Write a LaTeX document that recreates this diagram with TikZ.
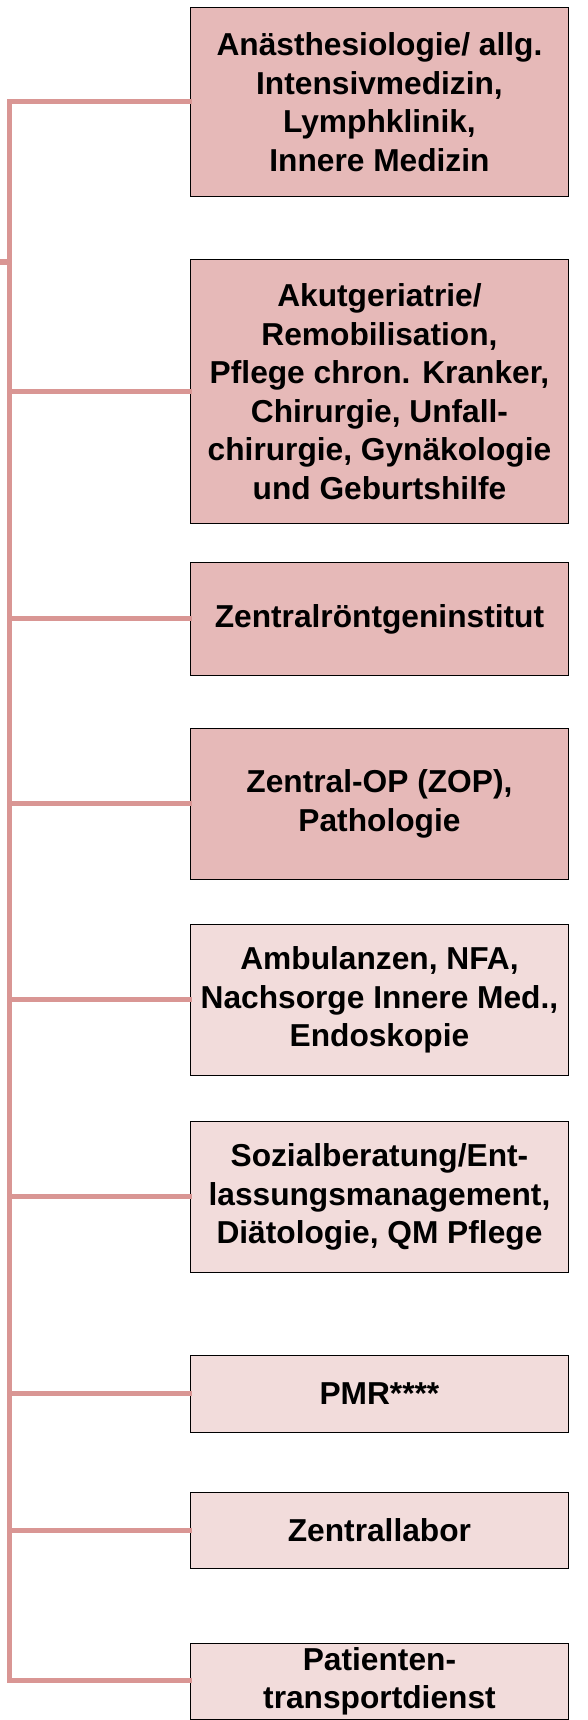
\documentclass[tikz,border=0pt]{standalone}
\usepackage{fontspec}
\setmainfont{Liberation Sans}
\definecolor{connc}{HTML}{D99694}
\definecolor{darkfill}{HTML}{E6B9B8}
\definecolor{lightfill}{HTML}{F2DCDB}
\tikzset{
  unit/.style={draw=black, line width=0.9pt, rectangle, anchor=north west,
    minimum width=378pt, inner sep=0pt, align=center,
    font=\fontsize{31.7pt}{38.5pt}\selectfont\bfseries},
  darkbox/.style={unit, fill=darkfill},
  lightbox/.style={unit, fill=lightfill},
  conn/.style={draw=connc, line width=5pt, line join=miter}
}
\begin{document}
\begin{tikzpicture}[x=1pt,y=1pt]
\useasboundingbox (0,0) rectangle (588,-1720);
\node[darkbox, minimum height=189pt] (b1) at (190,-7)
  {Anästhesiologie/ allg.\\Intensivmedizin,\\Lymphklinik,\\Innere Medizin};
\node[darkbox, minimum height=264pt] (b2) at (190,-259)
  {Akutgeriatrie/\\Remobilisation,\\Pflege chron. Kranker,\\Chirurgie, Unfall-\\chirurgie, Gynäkologie\\und Geburtshilfe};
\node[darkbox, minimum height=113pt] (b3) at (190,-562)
  {Zentralröntgeninstitut};
\node[darkbox, minimum height=151pt] (b4) at (190,-728)
  {Zentral-OP (ZOP),\\Pathologie};
\node[lightbox, minimum height=151pt] (b5) at (190,-924)
  {Ambulanzen, NFA,\\Nachsorge Innere Med.,\\Endoskopie};
\node[lightbox, minimum height=151pt] (b6) at (190,-1121)
  {Sozialberatung/Ent-\\lassungsmanagement,\\Diätologie, QM Pflege};
\node[lightbox, minimum height=77pt] (b7) at (190,-1355)
  {PMR****};
\node[lightbox, minimum height=76pt] (b8) at (190,-1492)
  {Zentrallabor};
\node[lightbox, minimum height=76pt] (b9) at (190,-1643)
  {Patienten-\\transportdienst};
\coordinate (top) at (9.5,-102);
\coordinate (bot) at (9.5,-1680);
\coordinate (stub) at (0,-262);
\begin{scope}[on background layer/.style={}]
\draw[conn] ([xshift=2pt]b1.west |- top) -- (top) -- (bot) -- ([xshift=2pt]b9.west |- bot);
\draw[conn] (stub) -- (stub -| top);
\foreach \n in {b2,b3,b4,b5,b6,b7,b8}{
  \draw[conn] ([xshift=2pt]\n.west) -- (\n.west -| top);
}
\end{scope}
\end{tikzpicture}
\end{document}
